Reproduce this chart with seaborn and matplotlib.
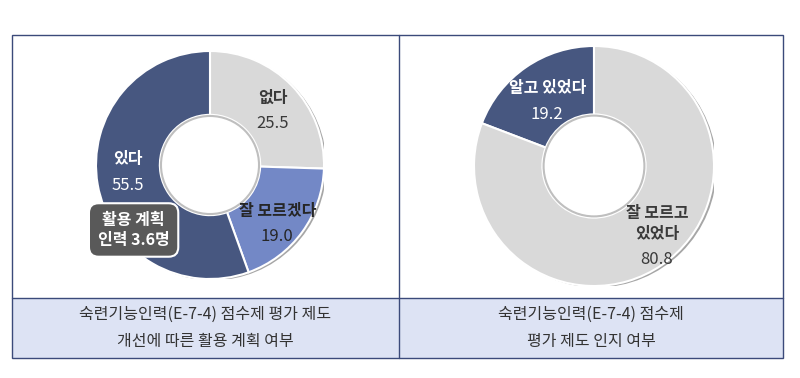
import matplotlib
matplotlib.use("Agg")
import matplotlib.pyplot as plt
import seaborn as sns
from matplotlib.patches import Rectangle, Circle

# data
left_labels = ["없다", "잘 모르겠다", "있다"]
left_values = [25.5, 19.0, 55.5]
right_labels = ["알고 있었다", "잘 모르고\n있었다"]
right_values = [19.2, 80.8]
left_caption = "숙련기능인력(E-7-4) 점수제 평가 제도\n개선에 따른 활용 계획 여부"
right_caption = "숙련기능인력(E-7-4) 점수제\n평가 제도 인지 여부"
callout_text = "활용 계획\n인력 3.6명"

sns.set_theme(style="white")
plt.rcParams["font.family"] = ["Noto Sans CJK KR", "DejaVu Sans"]

NAVY = "#475780"
MIDBLUE = "#7388c6"
GRAY = "#d9d9d9"
BORDER = "#3b4a7a"

W, H = 800, 378
fig = plt.figure(figsize=(8, 3.78), dpi=100)
fig.patch.set_facecolor("white")

# table frame in pixel coordinates
bg = fig.add_axes([0, 0, 1, 1])
bg.set_xlim(0, W)
bg.set_ylim(H, 0)
bg.axis("off")
bg.add_patch(Rectangle((12, 298), 771, 60, facecolor="#dde3f4", edgecolor="none"))
bg.add_patch(Rectangle((12, 35), 771, 323, facecolor="none", edgecolor=BORDER, lw=1))
bg.plot([12, 783], [298, 298], color=BORDER, lw=1)
bg.plot([399, 399], [35, 358], color=BORDER, lw=1)
bg.text(205, 328, left_caption, ha="center", va="center", fontsize=11.5,
        color="#333333", linespacing=1.75, fontweight="light")
bg.text(591, 328, right_caption, ha="center", va="center", fontsize=11.5,
        color="#333333", linespacing=1.75, fontweight="light")


def donut(cx, cy, r, values, colors, counterclock, hole):
    ax = fig.add_axes([(cx - r) / W, (H - cy - r) / H, 2 * r / W, 2 * r / H])
    # soft shadow ring behind the donut
    ax.add_patch(Circle((0.022, -0.012), 1.0, facecolor="#a6a6a6", edgecolor="none",
                        zorder=0))
    ax.pie(values, colors=colors, startangle=90, counterclock=counterclock,
           radius=1.0, wedgeprops=dict(width=1 - hole, edgecolor="white", linewidth=1.5))
    ax.add_patch(Circle((0, 0), hole - 0.01, facecolor="white", edgecolor="#bfbfbf",
                        lw=1.5, zorder=3))
    ax.set_xlim(-1.0, 1.0)
    ax.set_ylim(-1.0, 1.0)
    ax.set_aspect("equal")
    ax.axis("off")
    return ax


def slice_label(ax, x, y, label, value, color, step):
    # bold category name, value underneath
    ax.text(x, y, label, ha="center", va="bottom", fontsize=11.5, color=color,
            fontweight="bold", linespacing=1.35, zorder=4)
    ax.text(x, y - step, f"{value:.1f}", ha="center", va="bottom", fontsize=12,
            color=color, fontweight="medium", zorder=4)


# left donut
ax1 = donut(210, 165, 114, left_values, [GRAY, MIDBLUE, NAVY], False, 0.44)
lpos = [(0.55, 0.52), (0.59, -0.47), (-0.72, -0.02)]
lcol = ["#3a3a3a", "#262626", "white"]
for lab, val, (x, y), c in zip(left_labels, left_values, lpos, lcol):
    slice_label(ax1, x, y, lab, val, c, 0.23)
ax1.text(-0.67, -0.57, callout_text, ha="center", va="center", fontsize=11.5,
         color="white", fontweight="bold", linespacing=1.3, zorder=5,
         bbox=dict(boxstyle="round,pad=0.55,rounding_size=0.6", facecolor="#595959",
                   edgecolor="white", linewidth=1.5))

# right donut
ax2 = donut(594, 166, 120, right_values, [NAVY, GRAY], True, 0.43)
rpos = [(-0.39, 0.58), (0.525, -0.63)]
rcol = ["white", "#3a3a3a"]
for lab, val, (x, y), c in zip(right_labels, right_values, rpos, rcol):
    slice_label(ax2, x, y, lab, val, c, 0.22)

fig.savefig("out.png", dpi=100, facecolor="white")
